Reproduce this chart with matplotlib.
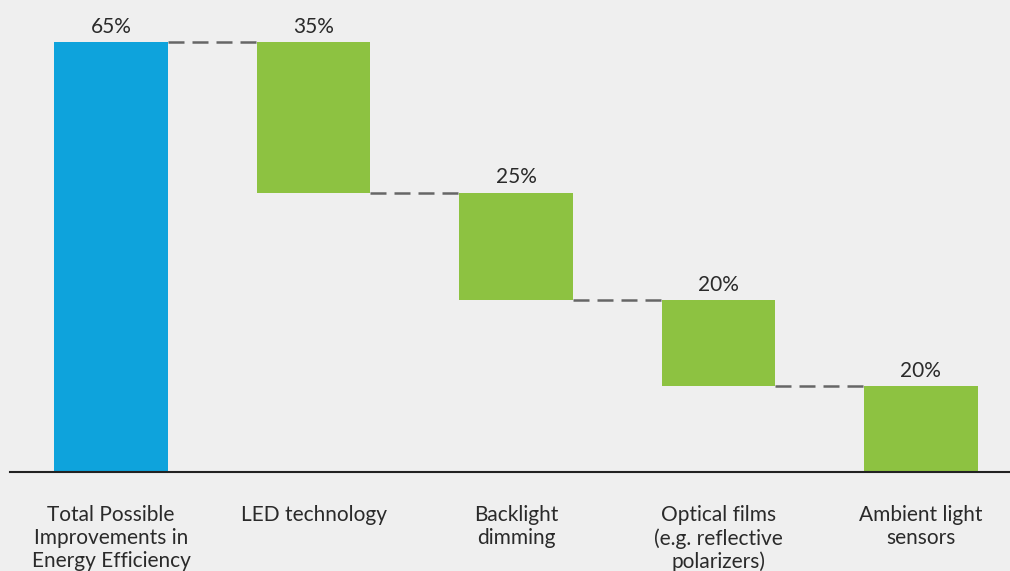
import numpy as np
import matplotlib.pyplot as plt

# waterfall: total improvement split into contributions (shares of the total)
categories = ["Total Possible\nImprovements in\nEnergy Efficiency",
              "LED technology",
              "Backlight\ndimming",
              "Optical films\n(e.g. reflective\npolarizers)",
              "Ambient light\nsensors"]
total = 65
shares = [35, 25, 20, 20]
labels = ["65%", "35%", "25%", "20%", "20%"]

plt.rcParams['font.family'] = ['Lato', 'DejaVu Sans']

bg = "#efefef"
fig = plt.figure(figsize=(10.1, 5.71), dpi=100, facecolor=bg)
ax = fig.add_axes([10 / 1010, 99 / 571, 1000 / 1010, 472 / 571])
ax.set_facecolor(bg)

# heights of the step bars, scaled so they add up to the total
steps = np.array(shares) * total / 100.0
tops = total - np.concatenate([[0], np.cumsum(steps)[:-1]])
bottoms = tops - steps

x = np.arange(len(categories))
w = 0.56
ax.bar(x[0], total, width=w, color="#0ea3dc")
ax.bar(x[1:], steps, bottom=bottoms, width=w, color="#8dc241")

# dashed connectors
levels = [total] + list(bottoms[:-1])
for i in range(len(categories) - 1):
    ax.plot([x[i] + w / 2, x[i + 1] - w / 2], [levels[i], levels[i]],
            color="#666666", lw=1.8, dashes=(6.4, 3.2), dash_capstyle="butt")

bar_tops = [total] + list(tops)
for xi, t, lab in zip(x, bar_tops, labels):
    ax.text(xi, t + 1.4, lab, ha="center", va="baseline", fontsize=15, color="#2a2a2a")

ax.set_xlim(-0.499, 4.44)
ax.set_ylim(0, 71.35)
ax.set_xticks(x)
ax.set_xticklabels(categories, fontsize=15, color="#2a2a2a", linespacing=1.18, va="top")
ax.tick_params(axis="x", length=0, pad=24)
ax.set_yticks([])
for s in ["top", "right", "left"]:
    ax.spines[s].set_visible(False)
ax.spines["bottom"].set_color("#222222")
ax.spines["bottom"].set_linewidth(1.5)

fig.savefig("out.png", dpi=100, facecolor=bg)
